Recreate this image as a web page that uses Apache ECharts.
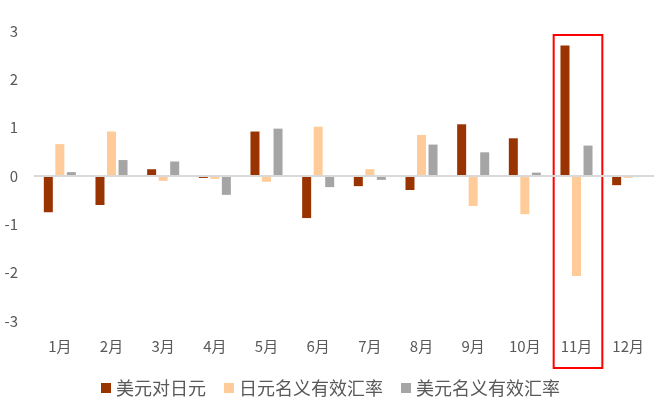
<!DOCTYPE html>
<html lang="zh">
<head>
<meta charset="UTF-8">
<script src="https://cdn.jsdelivr.net/npm/echarts@6/dist/echarts.min.js"></script>
<title>汇率变动</title>
<style>
  html, body { margin: 0; padding: 0; background: #fff; }
  #main { width: 661px; height: 408px; }
</style>
</head>
<body>
<div id="main"></div>
<script type="text/javascript">
    var months = ['1月', '2月', '3月', '4月', '5月', '6月', '7月', '8月', '9月', '10月', '11月', '12月'];
    var usdJpy = [-0.75, -0.60, 0.14, -0.04, 0.92, -0.87, -0.21, -0.29, 1.07, 0.78, 2.70, -0.19];
    var jpyNeer = [0.66, 0.92, -0.10, -0.06, -0.12, 1.02, 0.14, 0.85, -0.62, -0.79, -2.07, -0.04];
    var usdNeer = [0.08, 0.33, 0.30, -0.39, 0.98, -0.23, -0.08, 0.65, 0.49, 0.07, 0.63, 0];
    var seriesNames = ['美元对日元', '日元名义有效汇率', '美元名义有效汇率'];
    var colors = ['#993300', '#FFCC99', '#A5A5A5'];
    var highlightMonth = '11月';

    var font = '"Noto Sans CJK SC", "Microsoft YaHei", sans-serif';
    var myChart = echarts.init(document.getElementById('main'));

    var option = {
        animation: false,
        color: colors,
        grid: { left: 34, right: 7, top: 31, bottom: 87 },
        legend: {
            bottom: 6,
            left: 'center',
            itemWidth: 10,
            itemHeight: 10,
            itemGap: 18,
            icon: 'rect',
            textStyle: { color: '#595959', fontSize: 18, fontFamily: font },
            data: seriesNames
        },
        xAxis: {
            type: 'category',
            data: months,
            axisLine: { show: false, onZero: false },
            axisTick: { show: false },
            axisLabel: { color: '#595959', fontSize: 15, fontFamily: font, margin: 18 }
        },
        yAxis: {
            type: 'value',
            min: -3,
            max: 3,
            interval: 1,
            splitLine: { show: false },
            axisLine: { show: false },
            axisTick: { show: false },
            axisLabel: { color: '#595959', fontSize: 15, fontFamily: font, margin: 16 }
        },
        series: [
            {
                name: seriesNames[0], type: 'bar', data: usdJpy,
                barWidth: 9, barGap: '28%', barCategoryGap: '38%',
                markLine: {
                    silent: true, symbol: 'none', label: { show: false },
                    lineStyle: { color: '#D9D9D9', width: 2, type: 'solid' },
                    data: [{ yAxis: 0 }]
                }
            },
            { name: seriesNames[1], type: 'bar', data: jpyNeer, barWidth: 9, barGap: '28%' },
            { name: seriesNames[2], type: 'bar', data: usdNeer, barWidth: 9, barGap: '28%' }
        ]
    };
    myChart.setOption(option);

    // 红框标出 11 月
    var cx = myChart.convertToPixel({ xAxisIndex: 0 }, highlightMonth);
    var bandW = (661 - 34 - 7) / months.length;
    myChart.setOption({
        graphic: [{
            type: 'rect',
            shape: { x: cx - bandW / 2 + 3, y: 35, width: bandW - 3, height: 333 },
            style: { fill: 'none', stroke: '#FF0000', lineWidth: 2 },
            silent: true
        }]
    });
</script>
</body>
</html>
